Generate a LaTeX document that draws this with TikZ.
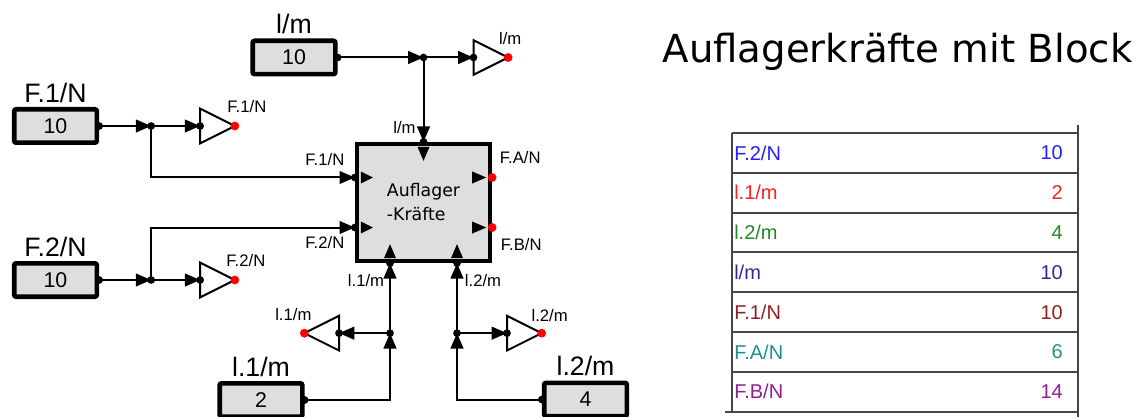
\documentclass[tikz,border=0pt]{standalone}
\usepackage{fontspec}
\setmainfont{Liberation Sans}
\newfontfamily\handfont{DejaVu Sans}
\usepackage{tikz}
\usetikzlibrary{arrows.meta,positioning,calc,shapes.geometric}
\definecolor{BoxGray}{HTML}{DEDEDE}
\definecolor{GridGray}{HTML}{444444}
\definecolor{RowBlue}{HTML}{1F1FFF}
\definecolor{RowRed}{HTML}{FF1F1F}
\definecolor{RowGreen}{HTML}{1F8A1F}
\definecolor{RowNavy}{HTML}{2B2B8F}
\definecolor{RowBrown}{HTML}{8F1F1F}
\definecolor{RowTeal}{HTML}{1F8F8F}
\definecolor{RowPurple}{HTML}{8F1F8F}

\begin{document}
\begin{tikzpicture}[x=0.75pt,y=-0.75pt,
  wire/.style={line width=1.5pt},
  sig/.style={wire,-{Triangle[length=11.5pt,width=9.5pt]}},
  constbox/.style={draw,line width=3.5pt,fill=BoxGray,rounded corners=1.5pt,
      minimum width=62pt,minimum height=25pt,inner sep=0pt,font=\fontsize{16}{19}\selectfont},
  ampl/.style={draw,line width=1.5pt,fill=white,isosceles triangle,isosceles triangle stretches,
      minimum width=26pt,minimum height=26pt,inner sep=0pt,outer sep=0pt},
  blockbox/.style={draw,line width=3pt,fill=BoxGray,minimum width=100pt,minimum height=88pt,
      align=left,font=\handfont\fontsize{13}{18}\selectfont},
  head/.style={font=\fontsize{20}{23}\selectfont,inner sep=0pt},
  lbl/.style={font=\fontsize{12.5}{15}\selectfont,inner sep=0pt},
  rowtxt/.style={font=\fontsize{15}{18}\selectfont,inner sep=0pt},
  grid/.style={draw=GridGray,line width=1.5pt},
  jdot/.style={fill=black},
  rdot/.style={fill=red}]
\useasboundingbox (0,0) rectangle (1145,417);

% Konstanten
\node[constbox] (cL) at (294,57.5) {10};
\node[constbox] (cF1) at (55.5,126) {10};
\node[constbox] (cF2) at (55.5,280) {10};
\node[constbox] (cl1) at (261,400) {2};
\node[constbox] (cl2) at (585.5,399.5) {4};
\node[head,above=3pt of cL] (hL) {l/m};
\node[head,above=3pt of cF1] (hF1) {F.1/N};
\node[head,above=3pt of cF2] (hF2) {F.2/N};
\node[head,above=3pt of cl1] (hl1) {l.1/m};
\node[head,above=3pt of cl2] (hl2) {l.2/m};

% Block
\node[blockbox] (blk) at (423.5,202.5) {Auflager\\-Kräfte};
\coordinate (pTop) at (blk.north);
\coordinate (pF1) at ($(blk.west)+(0,-25)$);
\coordinate (pF2) at ($(blk.west)+(0,25)$);
\coordinate (pA) at ($(blk.east)+(0,-25)$);
\coordinate (pB) at ($(blk.east)+(0,25)$);
\coordinate (pl1) at ($(blk.south)+(-33.5,0)$);
\coordinate (pl2) at ($(blk.south)+(33.5,0)$);

% Verzweigungen
\coordinate (jL) at (cL.east -| blk.north);
\coordinate (jF1) at ($(cF1.east)+(52,0)$);
\coordinate (jF2) at ($(cF2.east)+(52,0)$);
\coordinate (jl1) at ($(pl1)+(0,70)$);
\coordinate (jl2) at ($(pl2)+(0,70)$);

% Anzeigen
\node[ampl,anchor=lower side] (ampL) at ($(jL)+(50,0)$) {};
\node[ampl,anchor=lower side] (ampF1) at ($(jF1)+(49,0)$) {};
\node[ampl,anchor=lower side] (ampF2) at ($(jF2)+(49,0)$) {};
\node[ampl,shape border rotate=180,anchor=lower side] (ampl1) at ($(jl1)+(-51,0)$) {};
\node[ampl,anchor=lower side] (ampl2) at ($(jl2)+(50,0)$) {};

% Leitungen
\draw[sig] (cL.east) -- (jL);
\draw[sig] (jL) -- (ampL.lower side);
\draw[sig] (jL) -- (pTop);
\draw[sig] (cF1.east) -- (jF1);
\draw[sig] (jF1) -- (ampF1.lower side);
\draw[sig] (jF1) |- (pF1);
\draw[sig] (cF2.east) -- (jF2);
\draw[sig] (jF2) -- (ampF2.lower side);
\draw[sig] (jF2) |- (pF2);
\draw[sig] (cl1.east) -| (jl1);
\draw[sig] (jl1) -- (pl1);
\draw[sig] (jl1) -- (ampl1.lower side);
\draw[sig] (cl2.west) -| (jl2);
\draw[sig] (jl2) -- (pl2);
\draw[sig] (jl2) -- (ampl2.lower side);

\foreach \p in {cL.east,cF1.east,cF2.east,cl1.east,cl2.west,jL,jF1,jF2,jl1,jl2,
    pTop,pF1,pF2,pl1,pl2,ampL.lower side,ampF1.lower side,ampF2.lower side,
    ampl1.lower side,ampl2.lower side}
  \fill[jdot] (\p) circle (2.9pt);
\foreach \p in {ampL.apex,ampF1.apex,ampF2.apex,ampl1.apex,ampl2.apex,pA,pB}
  \fill[rdot] (\p) circle (3.3pt);

% Pfeile im Block
\fill[shift={(pF1)}] (6,-6) -- (18,0) -- (6,6) -- cycle;
\fill[shift={(pF2)}] (6,-6) -- (18,0) -- (6,6) -- cycle;
\fill[shift={(pA)}] (-20,-6) -- (-6,0) -- (-20,6) -- cycle;
\fill[shift={(pB)}] (-20,-6) -- (-6,0) -- (-20,6) -- cycle;
\fill[shift={(pTop)}] (-6,5) -- (6,5) -- (0,19) -- cycle;
\fill[shift={(pl1)}] (-6,-5) -- (6,-5) -- (0,-19) -- cycle;
\fill[shift={(pl2)}] (-6,-5) -- (6,-5) -- (0,-19) -- cycle;

% Beschriftungen
\node[lbl] at ($(ampL.apex)+(2,-19)$) {l/m};
\node[lbl] at ($(ampF1.apex)+(12,-19)$) {F.1/N};
\node[lbl] at ($(ampF2.apex)+(11,-19)$) {F.2/N};
\node[lbl] at ($(ampl1.apex)+(-11,-19)$) {l.1/m};
\node[lbl] at ($(ampl2.apex)+(8,-18)$) {l.2/m};
\node[lbl] at ($(pTop)+(-19,-14)$) {l/m};
\node[lbl] at ($(pF1)+(-30,-17.5)$) {F.1/N};
\node[lbl] at ($(pF2)+(-30,15.5)$) {F.2/N};
\node[lbl] at ($(pA)+(28,-19.5)$) {F.A/N};
\node[lbl] at ($(pB)+(29,17.5)$) {F.B/N};
\node[lbl] at ($(pl1)+(-24,17)$) {l.1/m};
\node[lbl] at ($(pl2)+(26,17)$) {l.2/m};

% Titel und Tabelle
\node[font=\handfont\fontsize{29}{34}\selectfont,anchor=base,inner sep=0pt] (ttl) at (897.5,63)
  {Auflagerkräfte mit Block};
\foreach \i/\lab/\val/\col in {0/{F.2/N}/10/RowBlue,1/{l.1/m}/2/RowRed,2/{l.2/m}/4/RowGreen,
    3/{l/m}/10/RowNavy,4/{F.1/N}/10/RowBrown,5/{F.A/N}/6/RowTeal,6/{F.B/N}/14/RowPurple}{
  \node[rowtxt,text=\col,anchor=west] (r\i) at (734,{153+39.8*\i}) {\lab};
  \node[rowtxt,text=\col,anchor=east] (v\i) at (1063,{153+39.8*\i}) {\val};
  \draw[grid] (732,{133+39.8*\i}) -- (1078,{133+39.8*\i});
}
\draw[grid] (732,133) -- (732,412);
\draw[grid] (1078,125) -- (1078,417);
\draw[grid] (725,412) -- (1078,412);
\end{tikzpicture}
\end{document}
